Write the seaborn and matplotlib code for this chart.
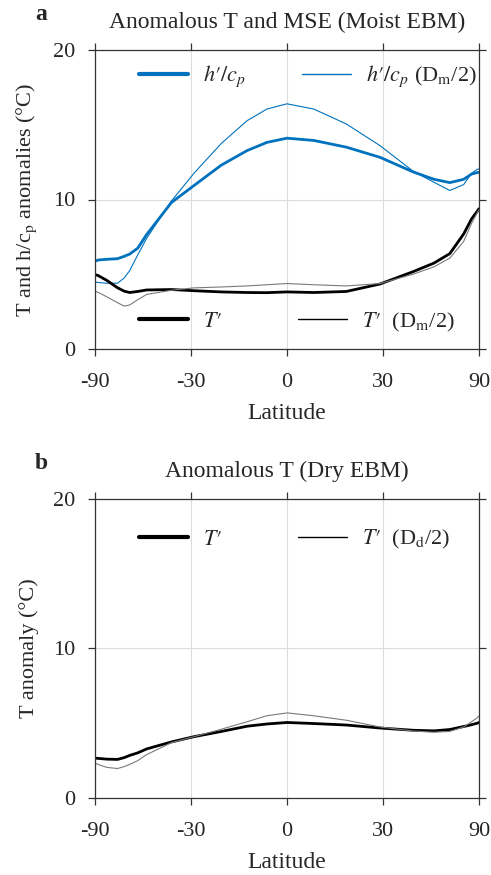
import numpy as np
import matplotlib
matplotlib.use("Agg")
import matplotlib.pyplot as plt
from matplotlib.lines import Line2D
import seaborn as sns

# latitude grid (degrees) shared by all curves
lat = [-90, -80, -70, -62, -58, -55, -51, -47, -37, -29, -20, -12, -6, 0,
       8, 18, 29, 41, 50, 58, 67, 74, 82, 90]

# panel a: moist EBM
h_moist = [5.87, 5.95, 6.0, 6.04, 6.2, 6.35, 6.75, 7.65, 9.8, 10.93, 12.3, 13.27, 13.82, 14.1,
           13.95, 13.5, 12.82, 11.85, 11.35, 11.13, 11.35, 11.7, 11.8, 11.82]
h_moist_half = [4.49, 4.45, 4.4, 4.4, 4.75, 5.25, 6.3, 7.4, 9.9, 11.75, 13.75, 15.27, 16.05, 16.4,
                16.05, 15.05, 13.6, 11.9, 11.15, 10.6, 11.0, 11.75, 12.02, 12.04]
t_moist = [4.98, 4.92, 4.6, 4.1, 3.87, 3.78, 3.85, 3.95, 3.98, 3.9, 3.82, 3.78, 3.77, 3.82,
           3.78, 3.85, 4.35, 5.17, 5.75, 6.38, 7.7, 8.7, 9.2, 9.38]
t_moist_half = [3.87, 3.8, 3.5, 3.1, 2.87, 2.95, 3.3, 3.65, 3.93, 4.09, 4.15, 4.22, 4.3, 4.38,
                4.3, 4.22, 4.38, 5.0, 5.5, 6.08, 7.2, 8.4, 9.1, 9.31]

# panel b: dry EBM
t_dry = [2.67, 2.65, 2.6, 2.58, 2.7, 2.85, 3.02, 3.28, 3.75, 4.1, 4.45, 4.8, 4.95, 5.05,
         4.98, 4.88, 4.68, 4.53, 4.49, 4.58, 4.78, 4.9, 5.0, 5.05]
t_dry_half = [2.34, 2.25, 2.05, 1.97, 2.1, 2.25, 2.5, 2.9, 3.7, 4.1, 4.6, 5.1, 5.5, 5.69,
              5.5, 5.2, 4.75, 4.48, 4.4, 4.45, 4.75, 5.1, 5.35, 5.49]

xticks = [-90, -30, 0, 30, 90]
yticks = [0, 10, 20]

BLUE = "#0072BD"

sns.set_theme(style="ticks")
plt.rcParams["font.family"] = ["Liberation Serif", "DejaVu Serif"]
plt.rcParams["mathtext.fontset"] = "stix"
plt.rcParams["axes.unicode_minus"] = False


def fwd(d):
    return np.sin(np.deg2rad(d))


def inv(s):
    return np.rad2deg(np.arcsin(np.clip(s, -1, 1)))


def style_axes(ax, title, ylabel, letter):
    # latitude axis is area-weighted (sine of latitude)
    ax.set_xscale("function", functions=(fwd, inv))
    ax.set_xlim(-90, 90)
    ax.set_ylim(0, 20)
    ax.set_xticks(xticks)
    ax.set_xticklabels([str(t) for t in xticks])
    ax.set_yticks(yticks)
    ax.set_xticks([], minor=True)
    ax.grid(True, color="#dcdcdc", linewidth=0.8)
    ax.set_axisbelow(True)
    for sp in ax.spines.values():
        sp.set_visible(True)
        sp.set_color("#333333")
        sp.set_linewidth(0.9)
    ax.tick_params(direction="out", length=5, width=0.9, color="#333333",
                   top=True, right=True, labelsize=16)
    ax.tick_params(axis="x", pad=12)
    ax.tick_params(axis="y", pad=9)
    ax.set_title(title, fontsize=17, pad=16)
    ax.set_ylabel(ylabel, fontsize=16, labelpad=10)
    ax.set_xlabel("Latitude", fontsize=17, labelpad=8)
    ax.text(-0.14, 1.117, letter, transform=ax.transAxes, fontsize=17,
            fontweight="bold", ha="center", va="center")


fig = plt.figure(figsize=(4.91, 8.75), dpi=100)
ax1 = fig.add_axes([0.1935, 0.6011, 0.782, 0.3418])
ax2 = fig.add_axes([0.1935, 0.0880, 0.782, 0.3418])

# panel a
sns.lineplot(x=lat, y=h_moist, ax=ax1, color=BLUE, linewidth=2.0)
sns.lineplot(x=lat, y=h_moist_half, ax=ax1, color=BLUE, linewidth=0.8)
sns.lineplot(x=lat, y=t_moist, ax=ax1, color="black", linewidth=2.0)
sns.lineplot(x=lat, y=t_moist_half, ax=ax1, color="#7a7a7a", linewidth=0.8)
style_axes(ax1, "Anomalous T and MSE (Moist EBM)",
           "T and h/c$_\\mathrm{p}$ anomalies (°C)", "a")

leg_top = ax1.legend(
    handles=[Line2D([], [], color=BLUE, lw=3.0), Line2D([], [], color=BLUE, lw=1.0)],
    labels=[r"$h\prime/c_p$", r"$h\prime/c_p$ (D$_\mathrm{m}$/2)"],
    ncol=2, loc="center left", bbox_to_anchor=(0.085, 0.911), frameon=False,
    fontsize=16, handlelength=2.2, handletextpad=0.7, columnspacing=2.5, borderpad=0)
ax1.add_artist(leg_top)
ax1.legend(
    handles=[Line2D([], [], color="black", lw=3.0), Line2D([], [], color="black", lw=1.0)],
    labels=[r"$T\prime$", r"$T\prime$  (D$_\mathrm{m}$/2)"],
    ncol=2, loc="center left", bbox_to_anchor=(0.085, 0.09), frameon=False,
    fontsize=16, handlelength=2.2, handletextpad=0.7, columnspacing=3.4, borderpad=0)

# panel b
sns.lineplot(x=lat, y=t_dry, ax=ax2, color="black", linewidth=2.0)
sns.lineplot(x=lat, y=t_dry_half, ax=ax2, color="#7a7a7a", linewidth=0.8)
style_axes(ax2, "Anomalous T (Dry EBM)", "T anomaly (°C)", "b")
ax2.legend(
    handles=[Line2D([], [], color="black", lw=3.0), Line2D([], [], color="black", lw=1.0)],
    labels=[r"$T\prime$", r"$T\prime$  (D$_\mathrm{d}$/2)"],
    ncol=2, loc="center left", bbox_to_anchor=(0.085, 0.863), frameon=False,
    fontsize=16, handlelength=2.2, handletextpad=0.7, columnspacing=3.4, borderpad=0)

fig.savefig("out.png", dpi=100)
